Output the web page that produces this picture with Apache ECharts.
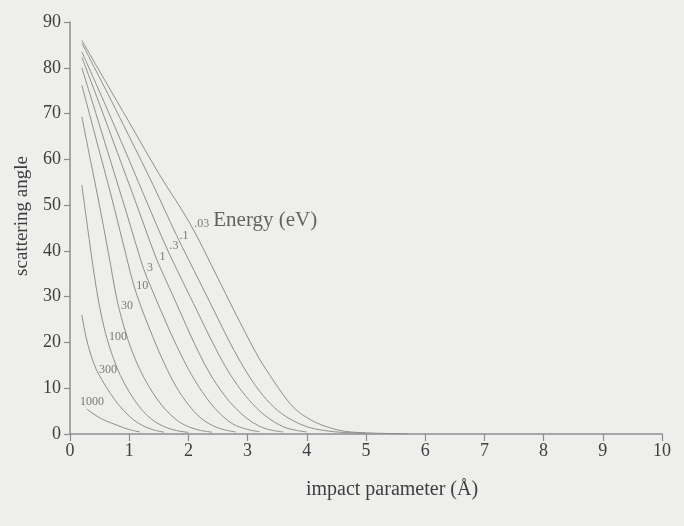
<!DOCTYPE html>
<html>
<head>
<meta charset="utf-8">
<script src="https://cdn.jsdelivr.net/npm/echarts@6/dist/echarts.min.js"></script>
<style>
  html, body { margin: 0; padding: 0; background: #eeeeec; }
  #chart { width: 684px; height: 526px; }
</style>
</head>
<body>
<div id="chart"></div>
<script>
// Scattering angle (degrees) versus impact parameter (Å), one curve per collision energy (eV)
const energies = ['.03', '.1', '.3', '1', '3', '10', '30', '100', '300', '1000'];

const e003 = [[0.2,86.0],[0.6,77.0],[1.0,68.1],[1.5,56.9],[2.03,45.9],[2.5,34.0],[2.75,27.5],[3.0,21.2],[3.2,16.4],[3.43,11.8],[3.6,8.6],[3.77,5.9],[3.95,4.0],[4.17,2.4],[4.38,1.4],[4.55,0.8],[4.73,0.45],[5.0,0.25],[5.35,0.12],[5.7,0.05]];
const e01  = [[0.2,85.4],[0.6,75.3],[1.0,65.0],[1.4,54.5],[1.8,43.4],[2.2,33.0],[2.45,26.5],[2.7,20.0],[2.95,14.2],[3.2,9.4],[3.45,5.8],[3.7,3.4],[4.0,1.6],[4.3,0.75],[4.6,0.35],[5.0,0.15]];
const e03  = [[0.2,83.5],[0.6,71.8],[1.0,59.8],[1.3,50.6],[1.62,41.0],[1.9,33.4],[2.15,26.8],[2.4,20.2],[2.65,14.2],[2.9,9.4],[3.15,5.7],[3.35,3.5],[3.6,1.6],[3.8,0.85],[4.0,0.45]];
const e1   = [[0.2,82.3],[0.5,72.0],[0.8,61.5],[1.1,51.0],[1.45,38.6],[1.62,33.6],[1.85,27.0],[2.1,19.8],[2.35,13.5],[2.6,8.6],[2.8,5.6],[3.0,3.3],[3.2,1.7],[3.4,0.85],[3.6,0.45]];
const e3   = [[0.2,80.0],[0.45,69.5],[0.7,59.0],[0.95,48.5],[1.24,36.2],[1.37,32.0],[1.55,26.5],[1.8,19.3],[2.05,13.0],[2.3,8.0],[2.5,4.9],[2.75,2.2],[3.0,1.0],[3.2,0.5]];
const e10  = [[0.2,76.2],[0.45,64.0],[0.7,51.8],[0.9,41.5],[1.07,32.8],[1.2,27.8],[1.4,21.2],[1.6,15.2],[1.8,10.2],[2.0,6.4],[2.2,3.6],[2.4,1.9],[2.6,0.95],[2.8,0.45]];
const e30  = [[0.2,69.3],[0.35,59.5],[0.5,49.8],[0.65,39.5],[0.8,29.0],[0.95,21.8],[1.1,16.4],[1.25,12.3],[1.4,9.0],[1.55,6.3],[1.7,4.2],[1.85,2.6],[2.0,1.6],[2.2,0.8],[2.4,0.4]];
const e100 = [[0.2,54.4],[0.3,44.8],[0.4,35.6],[0.5,27.8],[0.6,22.0],[0.72,17.0],[0.85,12.8],[1.0,9.2],[1.15,6.3],[1.3,4.1],[1.47,2.4],[1.65,1.3],[1.8,0.75],[2.0,0.35]];
const e300 = [[0.2,26.0],[0.27,21.2],[0.35,17.4],[0.44,14.2],[0.55,11.6],[0.68,8.9],[0.82,6.4],[1.0,3.9],[1.15,2.4],[1.3,1.4],[1.45,0.75],[1.59,0.4]];
const e1000= [[0.2,7.0],[0.3,5.3],[0.42,4.2],[0.55,3.2],[0.68,2.5],[0.8,1.9],[0.92,1.3],[1.05,0.8],[1.18,0.45]];

const curves = [e003, e01, e03, e1, e3, e10, e30, e100, e300, e1000];

const xTicks = [0, 1, 2, 3, 4, 5, 6, 7, 8, 9, 10];
const yTicks = [0, 10, 20, 30, 40, 50, 60, 70, 80, 90];

// Where each energy tag sits (left edge, vertical middle), in axis units
const tagAnchors = [[2.1,45.9],[1.85,43.2],[1.68,41.0],[1.51,38.6],[1.3,36.2],[1.12,32.3],[0.86,27.9],[0.66,21.2],[0.49,14.0],[0.17,7.0]];

const BG = '#eeeeec';
const INK = '#3e3e3e';
const LINE = '#8e8e8e';
const SERIF = '"Liberation Serif", "DejaVu Serif", serif';

const chart = echarts.init(document.getElementById('chart'));

const series = curves.map((pts, i) => ({
  name: energies[i] + ' eV',
  type: 'line',
  data: pts,
  showSymbol: false,
  symbol: 'none',
  smooth: 0.35,
  silent: true,
  lineStyle: { color: LINE, width: 1 },
  z: 2
}));

series.push({
  type: 'scatter',
  silent: true,
  symbolSize: 0,
  z: 5,
  data: tagAnchors.map((p, i) => ({
    value: p,
    name: energies[i],
    label: i === energies.length - 1
      ? { backgroundColor: BG, padding: [1, 0, 1, 0] }
      : {}
  })),
  label: {
    show: true,
    position: 'right',
    distance: 0,
    formatter: p => p.name,
    fontFamily: SERIF,
    fontSize: 12,
    color: '#5a5a5a'
  }
});

// Legend caption beside the lowest-energy tag
series.push({
  type: 'scatter',
  silent: true,
  symbolSize: 0,
  z: 5,
  data: [{ value: [2.42, 46.6], name: 'Energy (eV)' }],
  label: {
    show: true,
    position: 'right',
    distance: 0,
    formatter: p => p.name,
    fontFamily: SERIF,
    fontSize: 21,
    color: INK
  }
});

chart.setOption({
  backgroundColor: BG,
  animation: false,
  grid: { left: 70, right: 22, top: 22, bottom: 92 },
  xAxis: {
    type: 'value',
    min: xTicks[0],
    max: xTicks[xTicks.length - 1],
    interval: 1,
    axisLine: { show: true, onZero: false, lineStyle: { color: LINE, width: 1.5 } },
    axisTick: { show: true, length: 7, lineStyle: { color: LINE, width: 1.2 } },
    axisLabel: { margin: 8, fontFamily: SERIF, fontSize: 18, color: INK },
    splitLine: { show: false }
  },
  yAxis: {
    type: 'value',
    min: yTicks[0],
    max: yTicks[yTicks.length - 1],
    interval: 10,
    axisLine: { show: true, onZero: false, lineStyle: { color: LINE, width: 1.5 } },
    axisTick: { show: true, length: 6, lineStyle: { color: LINE, width: 1.2 } },
    axisLabel: { margin: 9, fontFamily: SERIF, fontSize: 18, color: INK },
    splitLine: { show: false }
  },
  graphic: [
    {
      type: 'text',
      x: 392, y: 490,
      style: {
        text: 'impact parameter (Å)',
        font: '20px ' + SERIF,
        fill: INK,
        textAlign: 'center',
        textVerticalAlign: 'middle'
      }
    },
    {
      type: 'text',
      x: 22, y: 216,
      rotation: Math.PI / 2,
      style: {
        text: 'scattering angle',
        font: '19px ' + SERIF,
        fill: INK,
        textAlign: 'center',
        textVerticalAlign: 'middle'
      }
    }
  ],
  series: series
});
</script>
</body>
</html>
